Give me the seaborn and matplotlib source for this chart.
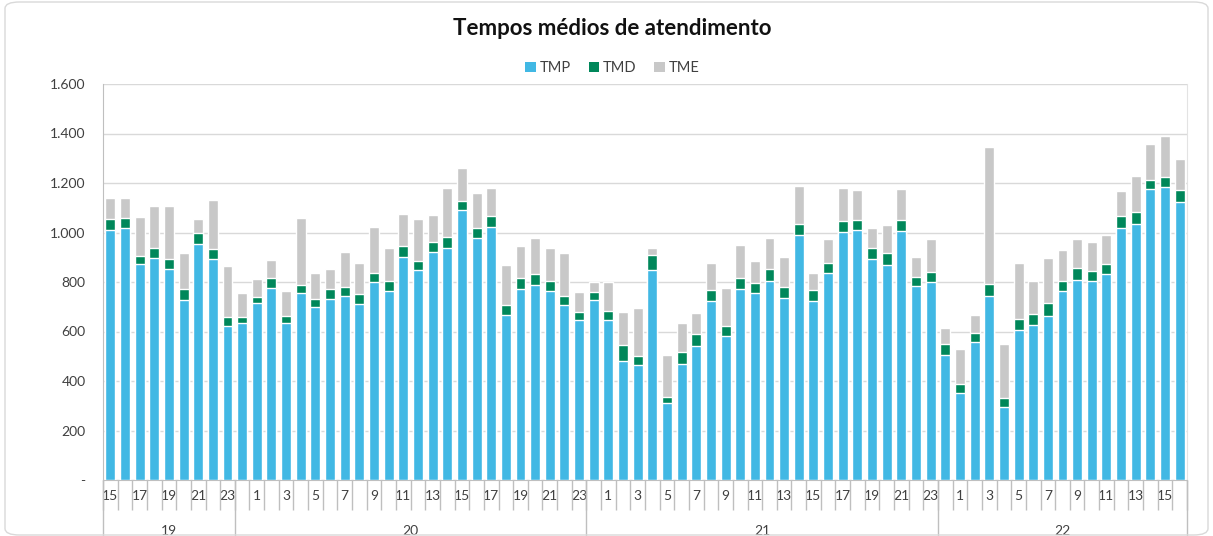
import matplotlib
matplotlib.use("Agg")
import matplotlib.pyplot as plt
import matplotlib.transforms as mtransforms
from matplotlib.patches import Patch, FancyBboxPatch
import seaborn as sns
import pandas as pd
import numpy as np

# Data: one bar per fortnight (quinzena), grouped by year
years = ['19'] * 9 + ['20'] * 24 + ['21'] * 24 + ['22'] * 17
weeks = list(range(15, 24)) + list(range(0, 24)) + list(range(0, 24)) + list(range(0, 17))
tmp = [1012, 1020, 871, 897, 851, 729, 955, 893, 622,
       633, 714, 774, 633, 756, 699, 731, 744, 710, 801, 764, 901, 847, 921,
       936, 1092, 977, 1024, 667, 770, 789, 764, 706, 645,
       729, 645, 480, 465, 847, 312, 468, 540, 725, 580, 770, 756, 804, 735,
       990, 722, 836, 1004, 1012, 893, 870, 1008, 782, 801,
       507, 352, 557, 744, 296, 606, 625, 663, 764, 809, 804, 832, 1020, 1035,
       1174, 1184, 1123]
tmd = [41, 38, 36, 39, 42, 41, 45, 39, 37,
       26, 27, 42, 30, 31, 34, 42, 34, 42, 35, 41, 43, 39, 40,
       45, 35, 43, 42, 39, 47, 43, 41, 38, 34,
       31, 38, 65, 38, 62, 23, 50, 48, 43, 42, 47, 40, 47, 43,
       45, 46, 42, 42, 38, 43, 47, 42, 38, 39,
       44, 35, 36, 49, 37, 46, 46, 54, 40, 46, 39, 42, 46, 46,
       37, 42, 47]
tme = [86, 81, 155, 172, 215, 146, 54, 199, 207,
       95, 71, 73, 99, 270, 102, 78, 142, 126, 188, 133, 129, 167, 108,
       197, 134, 138, 114, 161, 127, 145, 133, 172, 81,
       40, 117, 133, 191, 27, 172, 115, 87, 110, 154, 131, 90, 126, 123,
       154, 68, 95, 134, 120, 84, 112, 124, 81, 133,
       63, 141, 74, 552, 218, 226, 133, 180, 124, 118, 120, 116, 100, 149,
       146, 162, 125]
series = ['TMP', 'TMD', 'TME']
colors = ['#41B8E4', '#00875A', '#C8C8C8']

df = pd.DataFrame({'year': years, 'week': weeks, 'TMP': tmp, 'TMD': tmd, 'TME': tme})
df['cat'] = df['year'] + '-' + df['week'].astype(str)
df['top_tmd'] = df['TMP'] + df['TMD']
df['top_tme'] = df['top_tmd'] + df['TME']
order = list(df['cat'])

sns.set_style('white')
plt.rcParams['font.family'] = ['Lato', 'DejaVu Sans']
text_color = '#404040'

fig = plt.figure(figsize=(12.13, 5.36), dpi=100)
ax = fig.add_axes([103 / 1213, 56 / 536, 1084 / 1213, 396 / 536])

# stacked bars drawn as overlapping cumulative totals
for col, c in zip(['top_tme', 'top_tmd', 'TMP'], colors[::-1]):
    sns.barplot(data=df, x='cat', y=col, order=order, color=c, width=0.68,
                saturation=1, ax=ax, errorbar=None, zorder=3)

ax.set_xlim(-0.5, len(order) - 0.5)
ax.set_ylim(0, 1600)
ax.set_yticks(range(0, 1601, 200))
ax.set_yticklabels(['-' if v == 0 else f'{v:,}'.replace(',', '.') for v in range(0, 1601, 200)],
                   fontsize=10, color=text_color)
ax.yaxis.grid(True, color='#D9D9D9', linewidth=1, zorder=0)
ax.set_axisbelow(True)
ax.tick_params(axis='y', length=3.6, width=1, color='#D9D9D9', pad=9)
ax.set_xlabel('')
ax.set_ylabel('')

for s in ['top', 'left', 'right', 'bottom']:
    ax.spines[s].set_visible(True)
ax.spines['top'].set_visible(False)
ax.spines['left'].set_color('#BFBFBF')
ax.spines['bottom'].set_color('#BFBFBF')
ax.spines['right'].set_color('#E3E3E3')

# two-level category axis
ax.set_xticks(range(len(order)))
ax.set_xticklabels([str(w) if i % 2 == 0 else '' for i, w in enumerate(weeks)],
                   fontsize=10, color=text_color)
ax.tick_params(axis='x', length=0, pad=7)

trans = mtransforms.blended_transform_factory(ax.transData, ax.transAxes)
ax.vlines(np.arange(len(order) + 1) - 0.5, -0.076, 0, transform=trans,
          colors='#BFBFBF', linewidth=1, clip_on=False)
bounds = [0]
for i in range(1, len(years)):
    if years[i] != years[i - 1]:
        bounds.append(i)
bounds.append(len(years))
ax.vlines(np.array(bounds) - 0.5, -0.2, 0, transform=trans,
          colors='#BFBFBF', linewidth=1, clip_on=False)
for a, b in zip(bounds[:-1], bounds[1:]):
    ax.text((a + b - 1) / 2, -0.13, years[a], transform=trans, ha='center', va='center',
            fontsize=10, color=text_color)

fig.text(0.505, 0.946, 'Tempos médios de atendimento', ha='center', va='center',
         fontsize=16, fontweight='bold', color='#111111')
handles = [Patch(facecolor=c, edgecolor='none', label=s) for s, c in zip(series, colors)]
fig.legend(handles=handles, loc='center', bbox_to_anchor=(0.505, 0.873), ncol=3,
           frameon=False, fontsize=10.5, handlelength=0.7, handleheight=0.7,
           handletextpad=0.3, columnspacing=1.2, labelcolor=text_color)

fig.patches.append(FancyBboxPatch((5 / 1213, 1 / 536), 1203 / 1213, 533 / 536,
                                  boxstyle='round,pad=0,rounding_size=0.012',
                                  transform=fig.transFigure, facecolor='none',
                                  edgecolor='#D9D9D9', linewidth=1))

fig.savefig('out.png', dpi=100)
